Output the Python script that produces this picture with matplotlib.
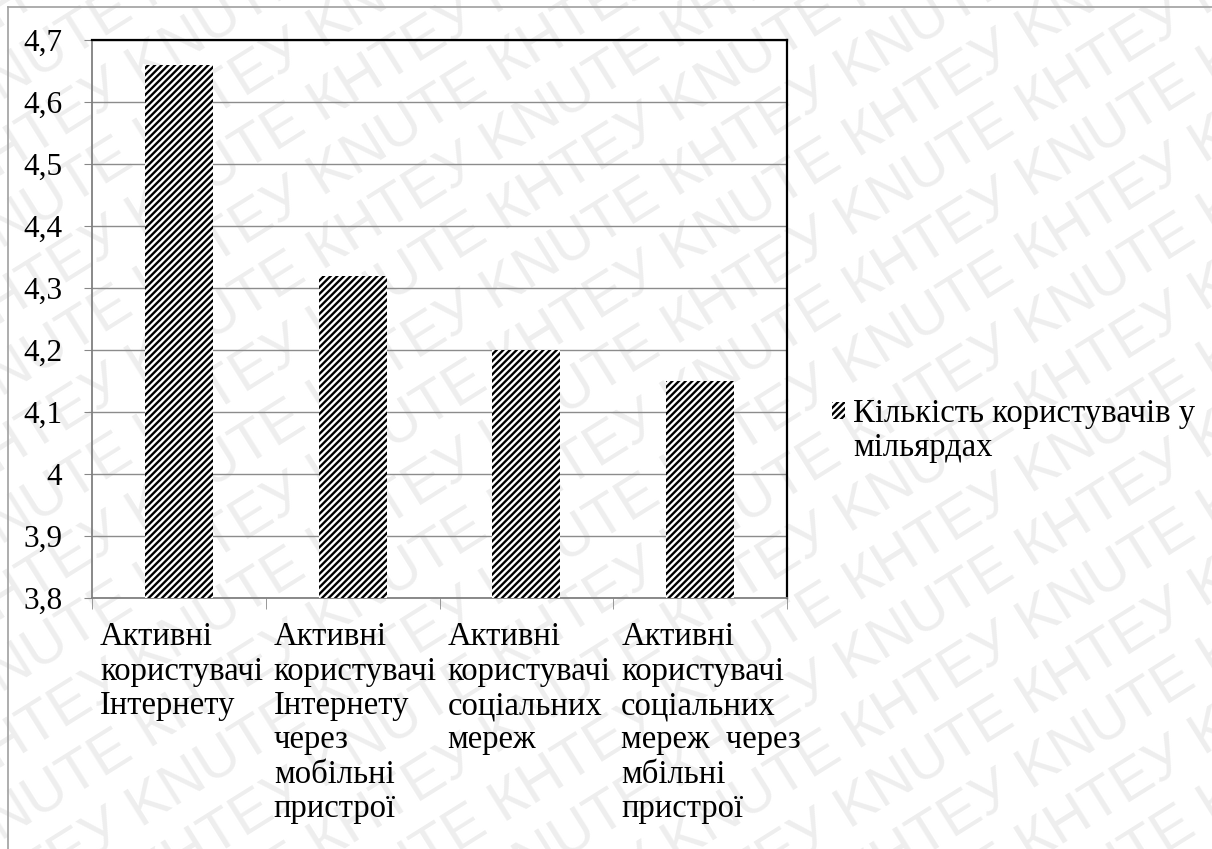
import numpy as np
import matplotlib.pyplot as plt
from matplotlib.lines import Line2D
from matplotlib.transforms import blended_transform_factory

plt.rcParams["font.family"] = ["Liberation Serif", "DejaVu Serif"]
plt.rcParams["hatch.linewidth"] = 1.7

categories = [
    "Активні\nкористувачі\nІнтернету",
    "Активні\nкористувачі\nІнтернету\nчерез\nмобільні\nпристрої",
    "Активні\nкористувачі\nсоціальних\nмереж",
    "Активні\nкористувачі\nсоціальних\nмереж  через\nмбільні\nпристрої",
]
users = [4.66, 4.32, 4.20, 4.15]
yticks = [3.8, 3.9, 4.0, 4.1, 4.2, 4.3, 4.4, 4.5, 4.6, 4.7]
ytick_labels = ["3,8", "3,9", "4", "4,1", "4,2", "4,3", "4,4", "4,5", "4,6", "4,7"]
series_name = ["Кількість користувачів у", "мільярдах"]
watermark = ["KNUTE", "КНТЕУ"]

fs = 23.5
W, H = 1212, 849

fig = plt.figure(figsize=(12.12, 8.49), dpi=100)

# background watermark rows
for k in range(-11, 13):
    first = watermark[k % 2]
    second = watermark[(k + 1) % 2]
    row = " ".join([first, second] * 4)
    fig.text(-40 / W, (k * 74) / H, row, rotation=32, rotation_mode="anchor",
             ha="left", va="center", fontsize=42, color="#eeeeee",
             family=["Liberation Sans", "DejaVu Sans"], zorder=-5)

# outer frame (left and top edges only visible)
fig.add_artist(Line2D([8 / W, 8 / W], [0, 1 - 7 / H], transform=fig.transFigure,
                      color="#a0a0a0", linewidth=1.2))
fig.add_artist(Line2D([8 / W, 1], [1 - 7 / H, 1 - 7 / H], transform=fig.transFigure,
                      color="#a0a0a0", linewidth=1.2))

ax = fig.add_axes([92 / W, 1 - 598 / H, (787 - 92) / W, (598 - 40) / H])
ax.patch.set_visible(False)

x = np.arange(len(users))
ax.bar(x, users, width=0.39, color="white", edgecolor="black", linewidth=0,
       hatch="/////", label=series_name[0], zorder=3)

ax.set_xlim(-0.5, len(users) - 0.5)
ax.set_ylim(3.8, 4.7)
ax.set_yticks(yticks)
ax.set_yticklabels(ytick_labels, fontsize=22.5)
ax.tick_params(axis="y", length=6, pad=15.5, color="#888888")
ax.yaxis.grid(True, color="#8c8c8c", linewidth=1, zorder=0)

ax.set_xticks([])
ax.set_xticks(np.arange(len(users) + 1) - 0.5, minor=True)
ax.tick_params(axis="x", which="minor", length=8, color="#888888")

for s in ["left", "bottom"]:
    ax.spines[s].set_color("#808080")
    ax.spines[s].set_linewidth(1.3)
ax.spines["top"].set_color("black")
ax.spines["right"].set_color("black")
ax.spines["top"].set_linewidth(1.6)
ax.spines["right"].set_linewidth(1.6)

tr = blended_transform_factory(ax.transData, ax.transAxes)
for i, lab in enumerate(categories):
    ax.text(i - 0.5 + 0.046, -0.043, lab, transform=tr, ha="left", va="top",
            fontsize=fs, linespacing=1.16)

ax.legend(loc="center left", bbox_to_anchor=(832 / W, 1 - 414 / H),
          bbox_transform=fig.transFigure, frameon=False, fontsize=fs,
          handlelength=0.4, handleheight=0.4, handletextpad=0.25,
          borderaxespad=0, borderpad=0)
fig.text(853 / W, 1 - 456 / H, series_name[1], fontsize=fs, va="baseline", ha="left")

fig.savefig("out.png", dpi=100)
